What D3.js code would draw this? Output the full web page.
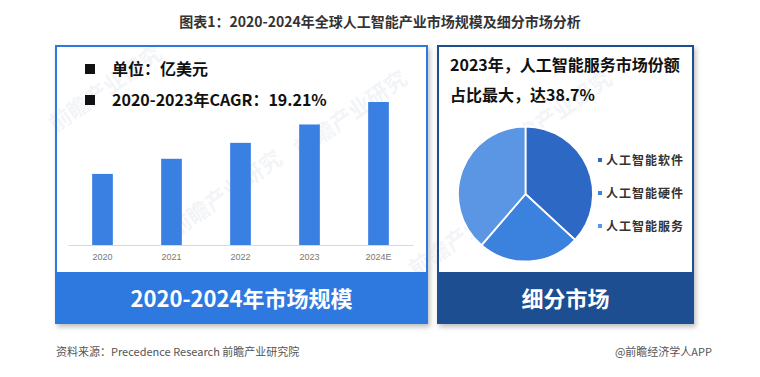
<!DOCTYPE html>
<html>
<head>
<meta charset="utf-8">
<script src="https://cdn.jsdelivr.net/npm/d3@7"></script>
<style>
  body { margin: 0; background: #fff; }
  svg { display: block; font-family: "Noto Sans CJK SC", "Noto Sans", sans-serif; }
</style>
</head>
<body>
<svg id="chart" width="760" height="377"></svg>
<script>
// data
const years = ['2020', '2021', '2022', '2023', '2024E'];
const marketSize = [870, 1055, 1250, 1475, 1750];   // 亿美元
const segments = ['人工智能软件', '人工智能硬件', '人工智能服务'];
const segmentShare = [36.9, 24.4, 38.7];
const segmentColors = ['#2d68c4', '#3b82de', '#5a96e3'];

const svg = d3.select('#chart');

const defs = svg.append('defs');
const f = defs.append('filter').attr('id', 'shadow')
    .attr('x', '-5%').attr('y', '-5%').attr('width', '115%').attr('height', '115%');
f.append('feDropShadow').attr('dx', 2).attr('dy', 3).attr('stdDeviation', 2.5)
    .attr('flood-color', '#000').attr('flood-opacity', 0.25);

// title
svg.append('text')
    .attr('x', 380).attr('y', 27)
    .attr('text-anchor', 'middle')
    .attr('font-size', 14).attr('font-weight', 'bold')
    .attr('fill', '#333')
    .text('图表1：2020-2024年全球人工智能产业市场规模及细分市场分析');

// panels
const left = {x: 55, y: 45, w: 373, h: 279, band: 52, color: '#2e79e0'};
const right = {x: 437, y: 45, w: 257, h: 279, band: 52, color: '#1d4e92'};

[left, right].forEach(p => {
    svg.append('rect')
        .attr('x', p.x).attr('y', p.y).attr('width', p.w).attr('height', p.h)
        .attr('fill', '#fff').attr('filter', 'url(#shadow)');
});

// watermarks (faint, behind the marks)
const wm = [[110, 95], [230, 200], [355, 120], [560, 120], [470, 240]];
wm.forEach(d => {
    svg.append('text')
        .attr('transform', `translate(${d[0]},${d[1]}) rotate(-35)`)
        .attr('text-anchor', 'middle')
        .attr('font-size', 22).attr('font-weight', 'bold')
        .attr('fill', '#d5dce6').attr('opacity', 0.3)
        .text('前瞻产业研究');
});

[left, right].forEach(p => {
    svg.append('rect')
        .attr('x', p.x).attr('y', p.y + p.h - p.band).attr('width', p.w).attr('height', p.band)
        .attr('fill', p.color);
    svg.append('rect')
        .attr('x', p.x + 1).attr('y', p.y + 1).attr('width', p.w - 2).attr('height', p.h - 2)
        .attr('fill', 'none').attr('stroke', p.color).attr('stroke-width', 2);
});

// left panel notes
const notes = ['单位：亿美元', '2020-2023年CAGR：19.21%'];
notes.forEach((t, i) => {
    const cy = 69 + i * 31;
    svg.append('rect').attr('x', 85).attr('y', cy - 5).attr('width', 10).attr('height', 10).attr('fill', '#111');
    svg.append('text')
        .attr('x', 112).attr('y', cy + 6)
        .attr('font-size', 16).attr('font-weight', 'bold').attr('fill', '#111')
        .text(t);
});

// bars
const x = d3.scaleBand().domain(years).range([68, 413]).paddingInner(0.7).paddingOuter(0.35);
const y = d3.scaleLinear().domain([0, 1750]).range([245, 102]);

svg.append('g')
    .selectAll('rect')
    .data(marketSize)
    .join('rect')
    .attr('x', (d, i) => x(years[i]))
    .attr('width', x.bandwidth())
    .attr('y', d => y(d))
    .attr('height', d => y(0) - y(d))
    .attr('fill', '#3a80e2');

const xAxis = svg.append('g')
    .attr('transform', 'translate(0,245)')
    .call(d3.axisBottom(x).tickSize(0).tickPadding(9));
xAxis.select('.domain').attr('stroke', '#d9d9d9');
xAxis.selectAll('.tick text')
    .attr('font-size', 9).attr('fill', '#777')
    .attr('font-family', '"Liberation Sans", sans-serif');

// bands text
svg.append('text')
    .attr('x', left.x + left.w / 2).attr('y', 307)
    .attr('text-anchor', 'middle')
    .attr('font-size', 22).attr('font-weight', 'bold').attr('fill', '#fff')
    .text('2020-2024年市场规模');
svg.append('text')
    .attr('x', right.x + right.w / 2).attr('y', 307)
    .attr('text-anchor', 'middle')
    .attr('font-size', 22).attr('font-weight', 'bold').attr('fill', '#fff')
    .text('细分市场');

// right panel heading
['2023年，人工智能服务市场份额', '占比最大，达38.7%'].forEach((t, i) => {
    svg.append('text')
        .attr('x', 450).attr('y', 71 + i * 30)
        .attr('font-size', 16).attr('font-weight', 'bold').attr('fill', '#111')
        .text(t);
});

// pie
const pie = d3.pie().sort(null).value(d => d);
const arc = d3.arc().innerRadius(0).outerRadius(67.5);
const color = d3.scaleOrdinal().domain(segments).range(segmentColors);

svg.append('g')
    .attr('transform', 'translate(525.5,194)')
    .selectAll('path')
    .data(pie(segmentShare))
    .join('path')
    .attr('d', arc)
    .attr('fill', (d, i) => color(segments[i]))
    .attr('stroke', '#fff')
    .attr('stroke-width', 1.8);

// legend
const legend = svg.append('g')
    .selectAll('g')
    .data(segments)
    .join('g')
    .attr('transform', (d, i) => `translate(598,${160 + i * 33})`);
legend.append('rect')
    .attr('x', 0).attr('y', -2).attr('width', 4).attr('height', 4)
    .attr('fill', d => color(d));
legend.append('text')
    .attr('x', 8).attr('y', 5)
    .attr('font-size', 12).attr('font-weight', 'bold').attr('fill', '#333')
    .attr('letter-spacing', 1)
    .text(d => d);

// footer
svg.append('text')
    .attr('x', 56).attr('y', 356)
    .attr('font-size', 11).attr('fill', '#555')
    .text('资料来源：Precedence Research 前瞻产业研究院');
svg.append('text')
    .attr('x', 712).attr('y', 356)
    .attr('text-anchor', 'end')
    .attr('font-size', 11).attr('fill', '#555')
    .text('@前瞻经济学人APP');
</script>
</body>
</html>
